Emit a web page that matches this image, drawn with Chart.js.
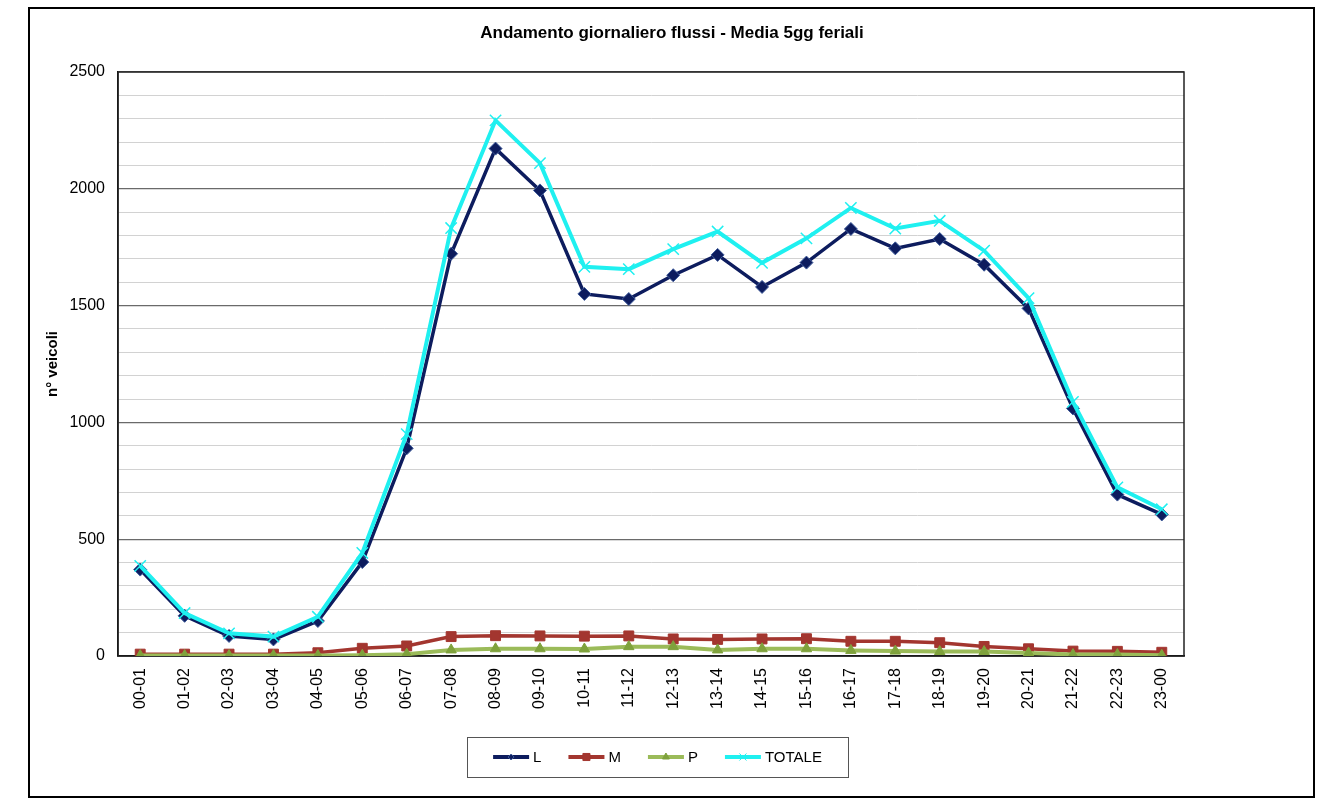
<!DOCTYPE html>
<html lang="it">
<head>
<meta charset="utf-8">
<title>Andamento giornaliero flussi</title>
<script src="https://cdn.jsdelivr.net/npm/chart.js@4/dist/chart.umd.min.js"></script>
<style>
  html, body { margin: 0; padding: 0; background: #fff; }
  #wrap { width: 1322px; height: 800px; }
</style>
</head>
<body>
<div id="wrap"><canvas id="c" width="1322" height="800"></canvas></div>
<script>
// Fasce orarie
const fasce = ['00-01','01-02','02-03','03-04','04-05','05-06','06-07','07-08','08-09','09-10','10-11','11-12',
               '12-13','13-14','14-15','15-16','16-17','17-18','18-19','19-20','20-21','21-22','22-23','23-00'];

// Veicoli per fascia oraria (media 5 giorni feriali)
const leggeri = [370, 172, 86, 71, 150, 402, 889, 1722, 2172, 1993, 1550, 1528,
                 1630, 1717, 1580, 1684, 1828, 1745, 1785, 1675, 1488, 1060, 691, 606];
const medi    = [8, 8, 8, 8, 14, 33, 43, 83, 87, 86, 85, 86,
                 73, 71, 73, 74, 63, 63, 57, 41, 31, 21, 20, 16];
const pesanti = [2, 2, 2, 2, 2, 3, 8, 26, 31, 31, 30, 40,
                 40, 26, 31, 31, 24, 21, 19, 19, 13, 6, 6, 3];
const totale  = [386, 184, 97, 83, 168, 441, 950, 1832, 2293, 2110, 1666, 1656,
                 1742, 1817, 1683, 1788, 1918, 1830, 1863, 1735, 1532, 1088, 722, 628];

// Tacche asse Y
const yMin = 0, yMax = 2500, yPasso = 100, yPassoPrincipale = 500;

const FONT = "'Liberation Sans', Arial, sans-serif";

// Cornice esterna e bordo dell'area del grafico
const cornice = {
  id: 'cornice',
  beforeDraw(chart) {
    const ctx = chart.ctx;
    ctx.save();
    ctx.fillStyle = '#fff';
    ctx.fillRect(0, 0, chart.width, chart.height);
    ctx.strokeStyle = '#000';
    ctx.lineWidth = 2;
    ctx.strokeRect(29, 8, 1285, 789);
    ctx.restore();
  },
  beforeDatasetsDraw(chart) {
    const a = chart.chartArea, ctx = chart.ctx;
    ctx.save();
    ctx.strokeStyle = '#222';
    ctx.lineWidth = 1.5;
    ctx.strokeRect(a.left, a.top, a.right - a.left, a.bottom - a.top);
    ctx.restore();
  }
};

// Legenda in riquadro sotto il grafico
const legenda = {
  id: 'legenda',
  afterDraw(chart) {
    const ctx = chart.ctx;
    const box = { x: 467, y: 737, w: 381, h: 40 };
    ctx.save();
    ctx.strokeStyle = '#555';
    ctx.lineWidth = 1;
    ctx.strokeRect(box.x + 0.5, box.y + 0.5, box.w, box.h);
    ctx.font = '15px ' + FONT;
    ctx.textBaseline = 'middle';
    const seg = 36, gap = 4, spazio = 27;
    const ds = chart.data.datasets;
    const larg = ds.map(d => ctx.measureText(d.label).width);
    const tot = larg.reduce((s, w) => s + seg + gap + w, 0) + spazio * (ds.length - 1);
    let x = box.x + (box.w - tot) / 2;
    const cy = box.y + box.h / 2;
    ds.forEach((d, i) => {
      ctx.strokeStyle = d.borderColor;
      ctx.lineWidth = 4;
      ctx.beginPath();
      ctx.moveTo(x, cy);
      ctx.lineTo(x + seg, cy);
      ctx.stroke();
      if (Chart.helpers && Chart.helpers.drawPoint) {
        ctx.fillStyle = d.pointBackgroundColor;
        ctx.strokeStyle = d.pointBorderColor;
        ctx.lineWidth = 1;
        Chart.helpers.drawPoint(ctx, { pointStyle: d.pointStyle, radius: d.legendRadius, rotation: 0, borderWidth: 1 }, x + seg / 2, cy);
      }
      ctx.fillStyle = '#000';
      ctx.fillText(d.label, x + seg + gap, cy + 1);
      x += seg + gap + larg[i] + spazio;
    });
    ctx.restore();
  }
};

new Chart(document.getElementById('c'), {
  type: 'line',
  data: {
    labels: fasce,
    datasets: [
      { label: 'L', data: leggeri, order: 3,
        borderColor: '#0d1c5e', borderWidth: 3.5,
        pointStyle: 'rectRot', pointRadius: 6.5, legendRadius: 3,
        pointBackgroundColor: '#0d1c5e', pointBorderColor: '#3d5a9a', pointBorderWidth: 1 },
      { label: 'M', data: medi, order: 2,
        borderColor: '#a3362f', borderWidth: 3.5,
        pointStyle: 'rect', pointRadius: 7, legendRadius: 5,
        pointBackgroundColor: '#a3362f', pointBorderColor: '#a3362f', pointBorderWidth: 1 },
      { label: 'P', data: pesanti, order: 1,
        borderColor: '#9bbb59', borderWidth: 4,
        pointStyle: 'triangle', pointRadius: 6, legendRadius: 4,
        pointBackgroundColor: '#7fa23c', pointBorderColor: '#7fa23c', pointBorderWidth: 1 },
      { label: 'TOTALE', data: totale, order: 0,
        borderColor: '#1ff0f0', borderWidth: 4,
        pointStyle: 'crossRot', pointRadius: 8, legendRadius: 5,
        pointBackgroundColor: '#1ff0f0', pointBorderColor: '#1ff0f0', pointBorderWidth: 1.5 }
    ]
  },
  options: {
    responsive: false,
    animation: false,
    events: [],
    layout: { padding: { left: 30, right: 8, top: 0, bottom: 0 } },
    elements: { line: { tension: 0 } },
    plugins: {
      legend: { display: false },
      tooltip: { enabled: false },
      title: {
        display: true,
        text: 'Andamento giornaliero flussi - Media 5gg feriali',
        color: '#000',
        font: { family: FONT, size: 17, weight: 'bold' },
        padding: { top: 23, bottom: 28.6 }
      }
    },
    scales: {
      x: {
        offset: true,
        grid: { display: false },
        border: { display: true, color: '#000', width: 1.5 },
        ticks: {
          autoSkip: false, maxRotation: 90, minRotation: 90, padding: 4,
          color: '#000', font: { family: FONT, size: 16 }
        },
        afterFit(s) { s.height = 144; }
      },
      y: {
        min: yMin, max: yMax,
        grid: {
          drawTicks: false,
          color: c => (c.tick && c.tick.value % yPassoPrincipale === 0) ? '#6a6a6a' : '#d2d2d2',
          lineWidth: c => (c.tick && c.tick.value % yPassoPrincipale === 0) ? 1.2 : 1
        },
        border: { display: true, color: '#000', width: 1.5 },
        ticks: {
          stepSize: yPasso, padding: 13, color: '#000',
          font: { family: FONT, size: 16 },
          callback: v => (v % yPassoPrincipale === 0) ? String(v) : ''
        },
        title: {
          display: true, text: 'n° veicoli', color: '#000',
          font: { family: FONT, size: 15, weight: 'bold' },
          padding: { top: 14, bottom: 0 }
        },
        afterFit(s) { s.width = 88; }
      },
      destra: {
        position: 'right',
        display: true,
        grid: { display: false, drawTicks: false },
        border: { display: false },
        ticks: { display: false },
        afterFit(s) { s.width = 130; }
      }
    }
  },
  plugins: [cornice, legenda]
});
</script>
</body>
</html>
